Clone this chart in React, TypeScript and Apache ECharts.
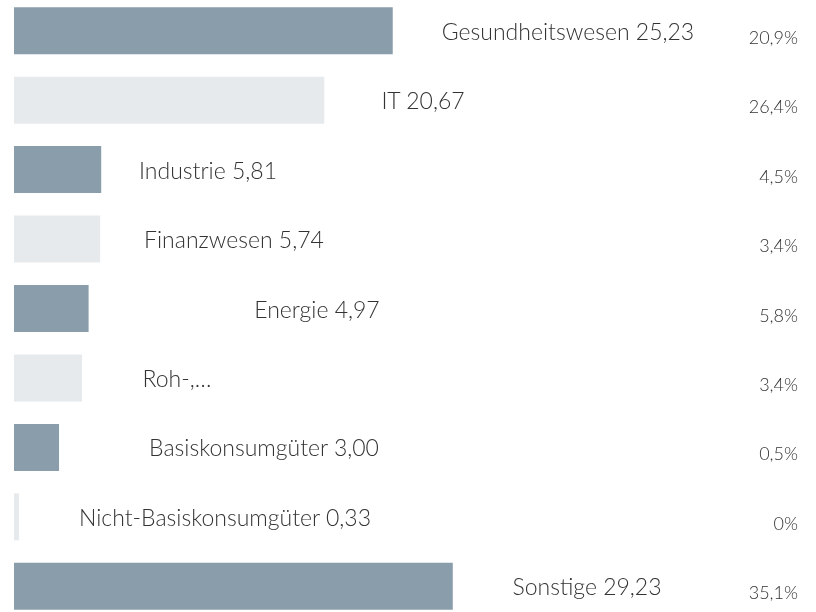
import React, { useEffect, useRef } from "react";
import * as echarts from "echarts";

const categories = [
  "Gesundheitswesen",
  "IT",
  "Industrie",
  "Finanzwesen",
  "Energie",
  "Roh-,…",
  "Basiskonsumgüter",
  "Nicht-Basiskonsumgüter",
  "Sonstige",
];
const values = [25.23, 20.67, 5.81, 5.74, 4.97, 4.53, 3.0, 0.33, 29.23];
const percentLabels = ["20,9%", "26,4%", "4,5%", "3,4%", "5,8%", "3,4%", "0,5%", "0%", "35,1%"];

// layout: label centre offset (px) from the bar's left edge
const labelOffsetX = [554, 409, 194, 220, 303, 163, 250, 211, 573];

const DARK = "#8a9daa";
const LIGHT = "#e7eaed";
const FONT = "Lato";

export default function App() {
  const ref = useRef<HTMLDivElement>(null);
  useEffect(() => {
    if (!ref.current) return;
    const chart = echarts.init(ref.current, undefined, { renderer: "svg" });
    const fmt = (name: string, v: number) =>
      name.endsWith("…") ? name : `${name} ${v.toFixed(2).replace(".", ",")}`;
    chart.setOption({
      animation: false,
      grid: { left: 14, right: 16, top: 1, bottom: 1, containLabel: false },
      xAxis: { type: "value", min: 0, max: 52.36, show: false },
      yAxis: [
        {
          type: "category",
          data: categories,
          inverse: true,
          show: false,
        },
        {
          type: "category",
          data: percentLabels,
          inverse: true,
          position: "right",
          axisLine: { show: false },
          axisTick: { show: false },
          splitLine: { show: false },
          axisLabel: {
            inside: true,
            margin: 2,
            color: "#333333",
            fontFamily: FONT,
            fontWeight: 300,
            fontSize: 18,
            verticalAlign: "top",
            padding: [-3, 0, 0, 0],
          },
        },
      ],
      series: [
        {
          type: "bar",
          yAxisIndex: 0,
          barCategoryGap: "32.3%",
          data: values.map((v, i) => ({
            value: v,
            itemStyle: { color: i % 2 === 0 ? DARK : LIGHT },
            label: {
              show: true,
              position: [labelOffsetX[i], "50%"],
              align: "center",
              verticalAlign: "middle",
              formatter: fmt(categories[i], v),
              color: "#333333",
              fontFamily: FONT,
              fontWeight: 300,
              fontSize: 23,
            },
          })),
        },
      ],
    });
    return () => chart.dispose();
  }, []);
  return (
    <div style={{ position: "fixed", left: 0, top: 0, width: 816, height: 612, overflow: "hidden" }}>
      <div ref={ref} style={{ position: "absolute", left: 0, top: -5.2, width: 816, height: 627 }} />
    </div>
  );
}
